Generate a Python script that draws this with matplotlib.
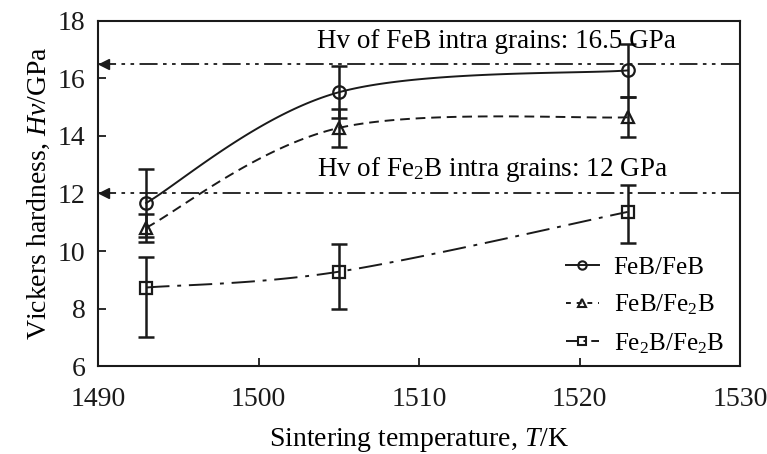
import numpy as np
import matplotlib
matplotlib.use("Agg")
import matplotlib.pyplot as plt
from matplotlib.lines import Line2D

plt.rcParams['font.family'] = ['Liberation Serif', 'DejaVu Serif']
plt.rcParams['mathtext.fontset'] = 'custom'
plt.rcParams['mathtext.rm'] = 'Liberation Serif'
plt.rcParams['mathtext.it'] = 'Liberation Serif:italic'

# sintering temperatures (K)
temps = [1493, 1505, 1523]

# Vickers hardness (GPa) and error bars (lower, upper)
hv_feb_feb = [11.67, 15.52, 16.28]
err_feb_feb = [[1.18, 0.90, 0.93], [1.18, 0.90, 0.93]]
hv_feb_fe2b = [10.81, 14.28, 14.65]
err_feb_fe2b = [[0.48, 0.66, 0.70], [0.48, 0.66, 0.70]]
hv_fe2b_fe2b = [8.73, 9.28, 11.36]
err_fe2b_fe2b = [[1.73, 1.28, 1.07], [1.07, 0.97, 0.93]]

hv_feb_grain = 16.5
hv_fe2b_grain = 12.0

labels = ['FeB/FeB', 'FeB/Fe$_2$B', 'Fe$_2$B/Fe$_2$B']


def smooth(x, y, k=1/6., n=60):
    # piecewise cubic bezier through the points (excel-style smoothed line)
    x = np.asarray(x, float)
    y = np.asarray(y, float)
    px = np.concatenate([[x[0]], x, [x[-1]]])
    py = np.concatenate([[y[0]], y, [y[-1]]])
    xs, ys = [], []
    t = np.linspace(0, 1, n)
    for i in range(len(x) - 1):
        p0 = np.array([px[i + 1], py[i + 1]])
        p3 = np.array([px[i + 2], py[i + 2]])
        c1 = p0 + k * (p3 - np.array([px[i], py[i]]))
        c2 = p3 - k * (np.array([px[i + 3], py[i + 3]]) - p0)
        b = ((1 - t) ** 3)[:, None] * p0 + (3 * (1 - t) ** 2 * t)[:, None] * c1 \
            + (3 * (1 - t) * t ** 2)[:, None] * c2 + (t ** 3)[:, None] * p3
        xs.extend(b[:, 0])
        ys.extend(b[:, 1])
    return np.array(xs), np.array(ys)


fig = plt.figure(figsize=(7.67, 4.54), dpi=100)
ax = fig.add_axes([0.1278, 0.1938, 0.837, 0.760])

col = '#1a1a1a'
series = [
    (hv_feb_feb, err_feb_feb, 'o', '-', 9),
    (hv_feb_fe2b, err_feb_fe2b, '^', (0, (5, 3)), 9),
    (hv_fe2b_fe2b, err_fe2b_fe2b, 's', (0, (12, 4, 2, 4)), 9),
]
for vals, err, mk, ls, ms in series:
    sx, sy = smooth(temps, vals)
    ax.plot(sx, sy, color=col, lw=1.4, linestyle=ls)
    ax.errorbar(temps, vals, yerr=err, fmt='none', ecolor=col, elinewidth=1.8,
                capsize=5.5, capthick=1.8)
    ax.plot(temps, vals, linestyle='none', marker=mk, ms=ms, mfc='none',
            mec=col, mew=1.6)

# reference hardness of the single-phase grains
dd = (0, (10, 3, 2, 3, 2, 3))
for v in [hv_feb_grain, hv_fe2b_grain]:
    ax.plot([1490, 1530], [v, v], color=col, lw=1.3, linestyle=dd)
    ax.plot([1490.4], [v], marker='<', color=col, ms=7, linestyle='none')

ax.text(1514.8, 17.3, 'Hv of FeB intra grains: %.1f GPa' % hv_feb_grain,
        ha='center', va='center', fontsize=19.5)
ax.text(1514.6, 12.85, 'Hv of Fe$_2$B intra grains: %d GPa' % hv_fe2b_grain,
        ha='center', va='center', fontsize=19.5)

handles = [
    Line2D([], [], color=col, lw=1.4, linestyle='-', marker='o', ms=6,
           mfc='none', mec=col, mew=1.5),
    Line2D([], [], color=col, lw=1.4, linestyle=(0, (2.5, 3)), marker='^', ms=6,
           mfc='none', mec=col, mew=1.5),
    Line2D([], [], color=col, lw=1.4, linestyle=(0, (6, 3, 1, 3)), marker='s', ms=6,
           mfc='none', mec=col, mew=1.5),
]
ax.legend(handles, labels, loc='lower right', frameon=False, fontsize=18,
          handlelength=1.3, handletextpad=0.6, labelspacing=0.55,
          bbox_to_anchor=(1.01, -0.035))

ax.set_xlim(1490, 1530)
ax.set_ylim(6, 18)
ax.set_xticks(np.arange(1490, 1531, 10))
ax.set_yticks(np.arange(6, 19, 2))
ax.tick_params(direction='in', length=6, width=1.3, labelsize=20, colors=col)
ax.tick_params(axis='x', pad=15)
ax.tick_params(axis='y', pad=9)
for s in ax.spines.values():
    s.set_linewidth(1.5)
    s.set_color(col)

ax.set_xlabel('Sintering temperature, $\\it{T}$/K', fontsize=20, labelpad=10)
ax.set_ylabel('Vickers hardness, $\\it{Hv}$/GPa', fontsize=20, labelpad=4)

fig.savefig('out.png', dpi=100)
